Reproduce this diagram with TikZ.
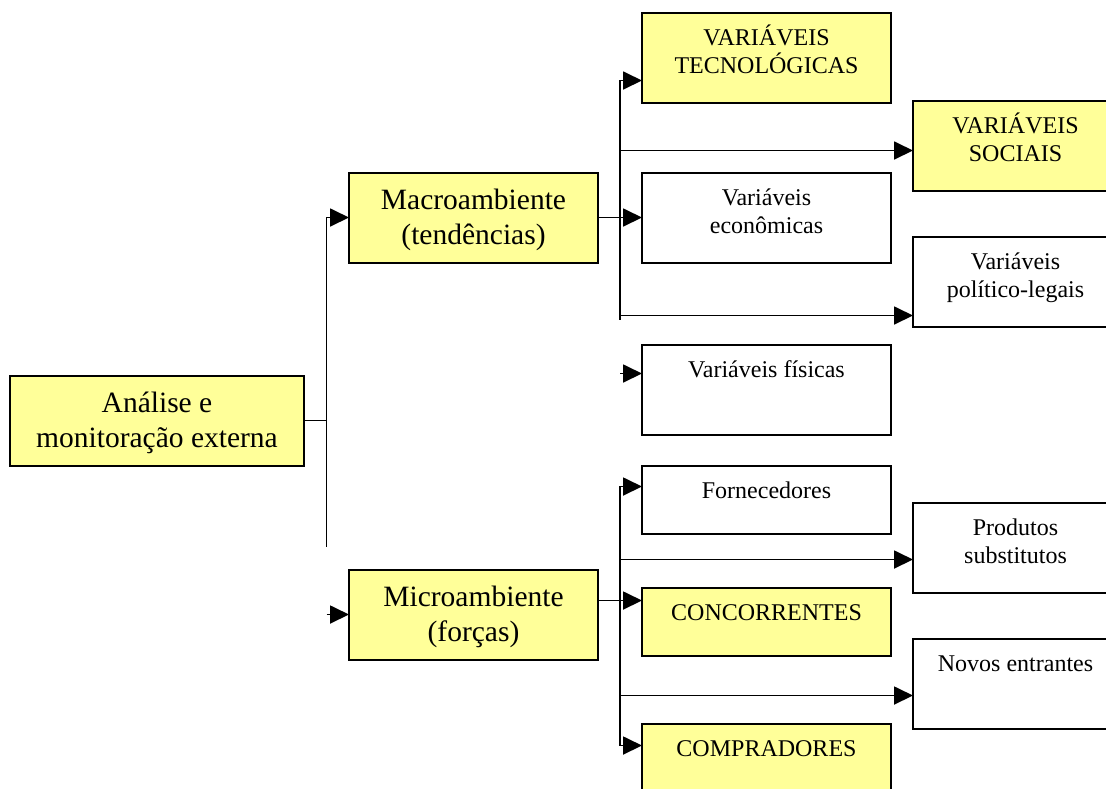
\documentclass[tikz,border=0pt]{standalone}
\usepackage{fontspec}
\setmainfont{Liberation Serif}
\usepackage{xcolor}
\usepackage{tikz}
\usetikzlibrary{calc, arrows.meta, positioning}
\definecolor{boxyellow}{RGB}{255,255,153}

\begin{document}
\begin{tikzpicture}[x=0.5pt, y=-0.5pt]
    \tikzstyle{mainbox} = [rectangle, draw, fill=boxyellow, text width=124.5pt, align=flush center, inner sep=0pt, outer sep=0pt, text height=18.5pt, text depth=26.5pt, line width=1pt, font=\fontsize{14.75}{17.5}\selectfont]
    \tikzstyle{wbox} = [rectangle, draw, fill=white, text width=124.5pt, align=flush center, inner sep=0pt, outer sep=0pt, text height=16.5pt, text depth=28.5pt, line width=1pt, font=\fontsize{12}{14}\selectfont]
    \tikzstyle{ybox} = [wbox, fill=boxyellow]
    \tikzstyle{farbox} = [text width=102.5pt]
    \tikzstyle{lowbox} = [text depth=17.5pt]
    \tikzstyle{link} = [draw, line width=0.9pt]
    \tikzstyle{line} = [link, -{Triangle[length=9.5pt, width=9pt]}]

    \useasboundingbox (0,0) rectangle (1106,788);
    \clip (0,0) rectangle (1106,788);

    \node [mainbox, text width=147pt] (ana) at (157,420.5) {Análise e\\monitoração externa};
    \node [mainbox, above right=56.5pt and 22.5pt of ana] (macro) {Macroambiente\\(tendências)};
    \node [mainbox, below right=52pt and 22.5pt of ana] (micro) {Microambiente\\(forças)};

    \node [wbox, right=22pt of macro] (eco) {Variáveis\\econômicas};
    \node [ybox, above=35pt of eco] (tec) {VARIÁVEIS\\TECNOLÓGICAS};
    \node [wbox, below=41pt of eco] (fis) {Variáveis físicas};
    \node [ybox, farbox, below right=-1pt and 11pt of tec] (soc) {VARIÁVEIS\\SOCIAIS};
    \node [wbox, farbox, below=23pt of soc] (pol) {Variáveis\\político-legais};

    \node [wbox, lowbox, below=15.5pt of fis] (forn) {Fornecedores};
    \node [ybox, lowbox, below=27pt of forn] (conc) {CONCORRENTES};
    \node [ybox, below=34pt of conc] (comp) {COMPRADORES};
    \node [wbox, farbox, below right=-15.5pt and 11pt of forn] (prod) {Produtos\\substitutos};
    \node [wbox, farbox, below=23pt of prod] (novos) {Novos entrantes};

    % branch points
    \coordinate (t1) at ($(ana.east)!0.5!(ana.east -| macro.west)$);
    \coordinate (t2) at ($(macro.east)!0.5!(eco.west)$);
    \coordinate (m1) at ([yshift=11.5pt]micro.north);
    \coordinate (atec) at ([yshift=-11.5pt]tec.west);
    \coordinate (asoc) at ([yshift=-2.5pt]soc.west);
    \coordinate (apol) at ([yshift=-17pt]pol.west);
    \coordinate (b2) at ([yshift=-2pt]apol);
    \coordinate (afis) at ([yshift=8pt]fis.west);
    \coordinate (aforn) at ([yshift=6.5pt]forn.west);
    \coordinate (aprod) at ([yshift=-6pt]prod.west);
    \coordinate (amic) at ([yshift=7pt]micro.east);
    \coordinate (anov) at ([yshift=-6pt]novos.west);
    \coordinate (acomp) at ([yshift=11.5pt]comp.west);

    \path [link] (ana.east) -- (t1);
    \path [line] (t1 |- m1) -- (t1 |- macro.west) -- (macro.west);
    \path [line] (t1 |- micro.west) -- (micro.west);

    \path [line] (macro.east) -- (eco.west);
    \path [line] (t2 |- b2) -- (t2 |- atec) -- (atec);
    \path [line] (t2 |- asoc) -- (asoc);
    \path [line] (t2 |- apol) -- (apol);
    \path [line] (t2 |- afis) -- (afis);

    \path [line] (t2 |- acomp) -- (t2 |- aforn) -- (aforn);
    \path [line] (t2 |- acomp) -- (acomp);
    \path [line] (amic) -- (amic -| conc.west);
    \path [line] (t2 |- aprod) -- (aprod);
    \path [line] (t2 |- anov) -- (anov);
\end{tikzpicture}
\end{document}
